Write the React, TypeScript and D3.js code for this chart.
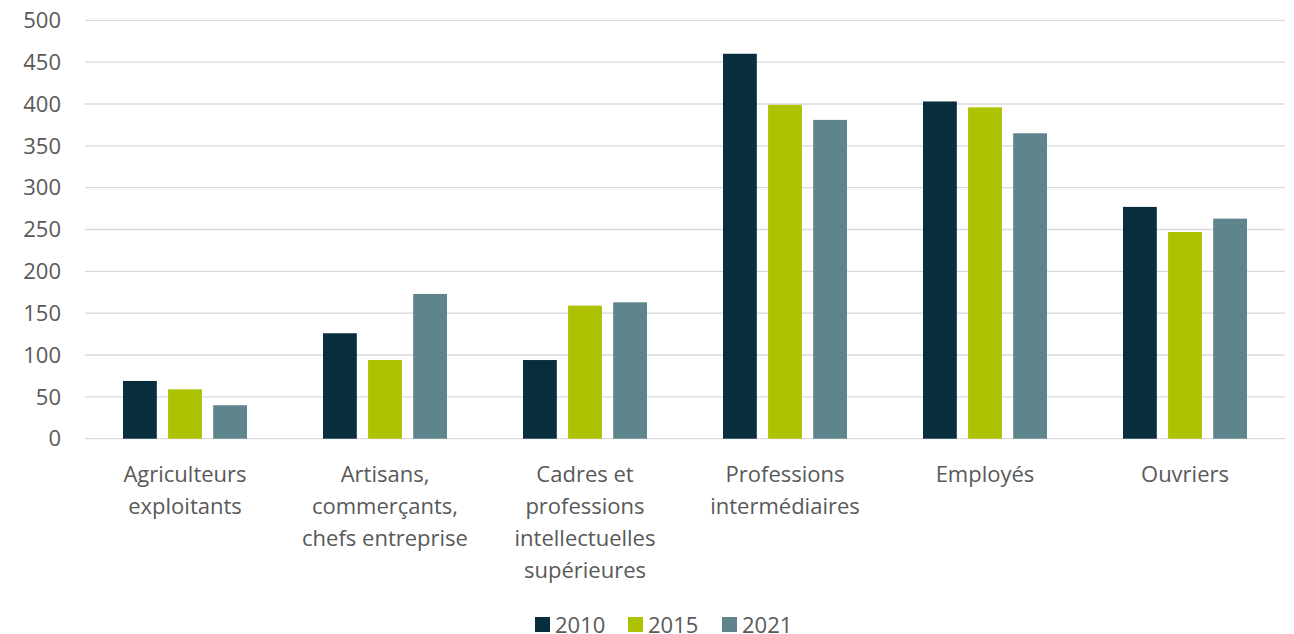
import React, { useEffect, useRef } from "react";
import * as d3 from "d3";

const categories: string[][] = [
  ["Agriculteurs", "exploitants"],
  ["Artisans,", "commerçants,", "chefs entreprise"],
  ["Cadres et", "professions", "intellectuelles", "supérieures"],
  ["Professions", "intermédiaires"],
  ["Employés"],
  ["Ouvriers"],
];
const seriesNames = ["2010", "2015", "2021"];
const values2010 = [69, 126, 94, 460, 403, 277];
const values2015 = [59, 94, 159, 399, 396, 247];
const values2021 = [40, 173, 163, 381, 365, 263];
const yTicks = [0, 50, 100, 150, 200, 250, 300, 350, 400, 450, 500];
const colors = ["#082d3c", "#adc200", "#5e858b"];

export default function App() {
  const ref = useRef<SVGSVGElement>(null);
  useEffect(() => {
    const svg = d3.select(ref.current);
    svg.selectAll("*").remove();
    const W = 1294, H = 634;
    const left = 85, right = 1285, top = 20.3, bottom = 438.7;
    const font = "'Open Sans', sans-serif";
    const fs = 22;
    const textColor = "#595959";
    const series = [values2010, values2015, values2021];
    const idx = categories.map((_, i) => i);

    const x = d3.scaleBand<number>().domain(idx).range([left, right]).paddingInner(0.38).paddingOuter(0.19);
    const x1 = d3.scaleBand<number>().domain([0, 1, 2]).range([0, x.bandwidth()]).paddingInner(0.25);
    const y = d3.scaleLinear().domain([0, 500]).range([bottom, top]);

    svg.attr("width", W).attr("height", H);

    // gridlines
    svg.append("g").selectAll("line").data(yTicks).join("line")
      .attr("x1", left).attr("x2", right)
      .attr("y1", d => y(d)).attr("y2", d => y(d))
      .attr("stroke", "#d9d9d9").attr("stroke-width", 1.3);

    // y labels
    svg.append("g").selectAll("text").data(yTicks).join("text")
      .attr("x", 61).attr("y", d => y(d)).attr("dy", "0.35em")
      .attr("text-anchor", "end")
      .attr("font-family", font).attr("font-size", fs).attr("fill", textColor)
      .text(d => String(d));

    // bars
    series.forEach((vals, s) => {
      svg.append("g").selectAll("rect").data(vals).join("rect")
        .attr("x", (_, i) => (x(i) as number) + (x1(s) as number))
        .attr("width", x1.bandwidth())
        .attr("y", d => y(d))
        .attr("height", d => y(0) - y(d))
        .attr("fill", colors[s]);
    });

    // category labels
    const cg = svg.append("g");
    categories.forEach((lines, i) => {
      const cx = (x(i) as number) + x.bandwidth() / 2;
      const t = cg.append("text")
        .attr("text-anchor", "middle")
        .attr("font-family", font).attr("font-size", fs).attr("fill", textColor);
      lines.forEach((ln, j) => {
        t.append("tspan").attr("x", cx).attr("y", 482 + j * 32).text(ln);
      });
    });

    // legend
    const lg = svg.append("g");
    const legendX = [535, 628, 722];
    seriesNames.forEach((name, s) => {
      lg.append("rect").attr("x", legendX[s]).attr("y", 617).attr("width", 15).attr("height", 15).attr("fill", colors[s]);
      lg.append("text").attr("x", legendX[s] + 20).attr("y", 625).attr("dy", "0.35em")
        .attr("font-family", font).attr("font-size", fs).attr("fill", textColor).text(name);
    });
  }, []);
  return <svg ref={ref} style={{ position: "absolute", left: 0, top: 0 }} />;
}
